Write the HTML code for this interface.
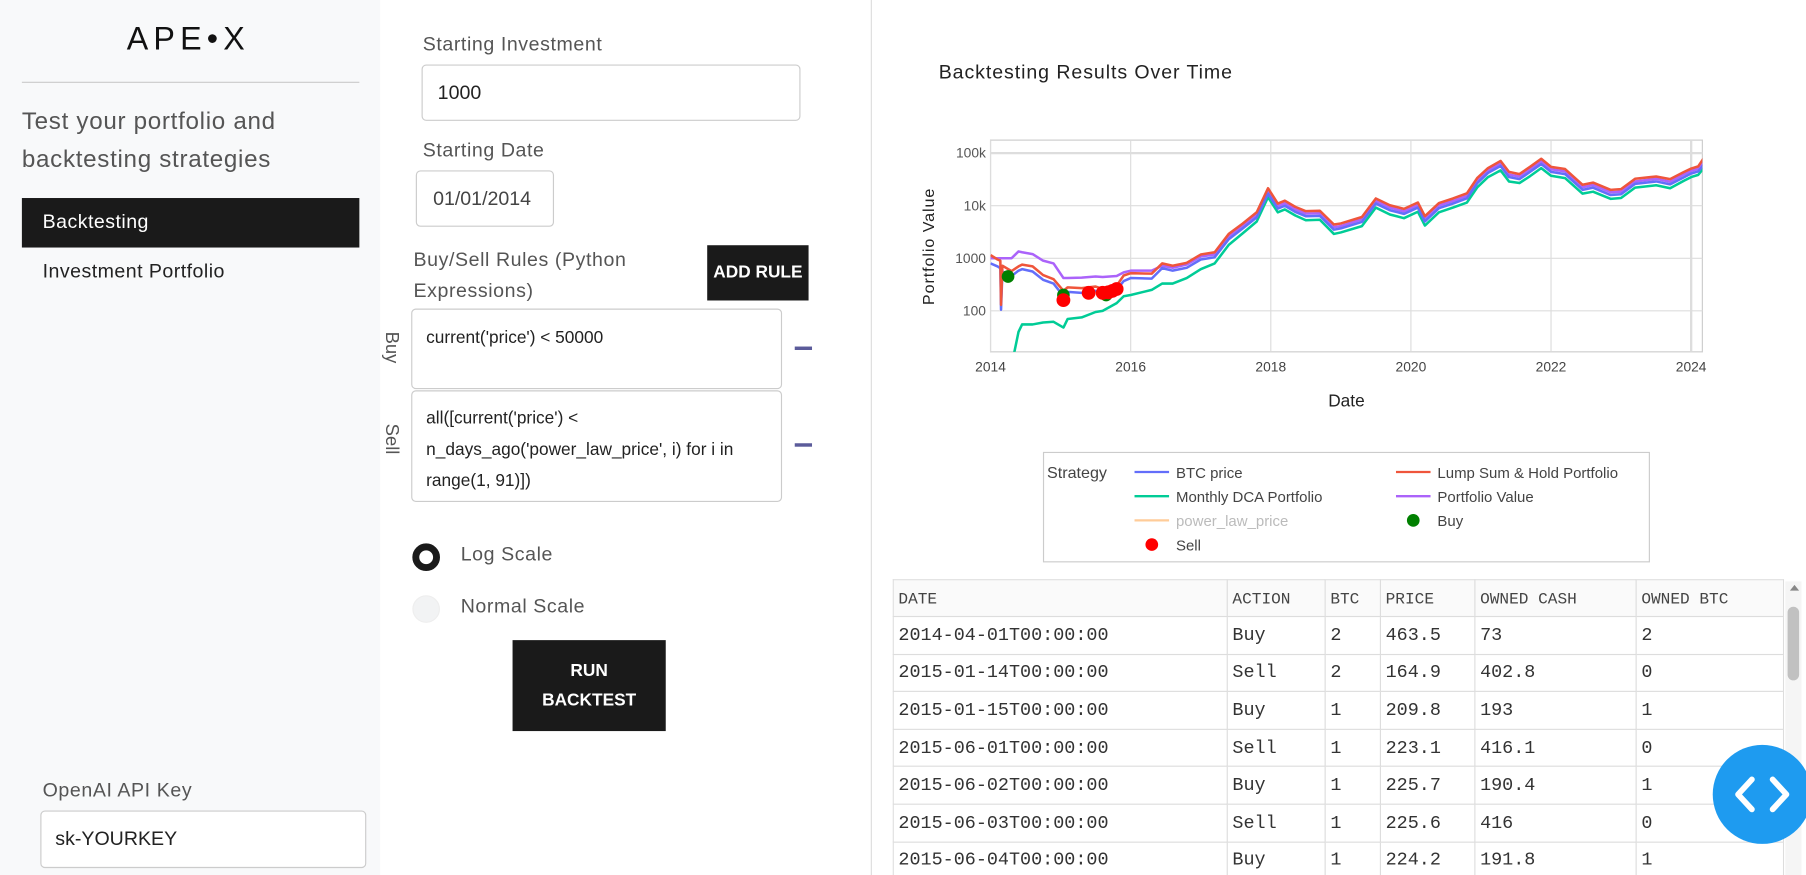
<!DOCTYPE html>
<html><head><meta charset="utf-8"><style>
*{box-sizing:border-box;margin:0;padding:0}
html,body{width:1806px;height:875px;overflow:hidden;background:#fff;font-family:"Liberation Sans",sans-serif}
#wrap{position:absolute;left:0;top:0;width:1568px;height:760px;transform:scale(1.1518,1.1513);transform-origin:0 0}
.abs{position:absolute}
.sidebar{left:0;top:0;width:330px;height:760px;background:#f8f9fa}
.lbl{color:#555;font-size:17px;letter-spacing:.5px}
.inp{border:1px solid #ccc;border-radius:4px;background:#fff;color:#222}
.btn{background:#1a1a1a;color:#fff;font-weight:bold;text-align:center}
table{border-collapse:collapse;font-family:"Liberation Mono",monospace;font-size:16px;color:#333}
td,th{border:1px solid #ddd;padding:0 4px;text-align:left;height:32.6px;font-weight:normal}
th{font-size:14px;height:32px;color:#444;background:#fafafa;padding-top:2px}
</style></head><body>
<div id="wrap">
<div class="abs sidebar"></div>
<div class="abs" style="left:110px;top:18px;font-size:28px;letter-spacing:4.5px;color:#111">APE•X</div>
<div class="abs" style="left:19px;top:71px;width:293px;border-top:1px solid #ccc"></div>
<div class="abs" style="left:19px;top:89px;font-size:21px;line-height:33px;color:#555;letter-spacing:.6px">Test your portfolio and<br>backtesting strategies</div>
<div class="abs" style="left:19px;top:172px;width:293px;height:43px;background:#1a1a1a;color:#fff;font-size:17px;padding:11px 18px;letter-spacing:.4px">Backtesting</div>
<div class="abs" style="left:37px;top:226px;font-size:17px;color:#222;letter-spacing:.4px">Investment Portfolio</div>
<div class="abs lbl" style="left:37px;top:677px">OpenAI API Key</div>
<div class="abs inp" style="left:35px;top:704px;width:283px;height:50px;padding:14px 12px;font-size:17px">sk-YOURKEY</div>

<div class="abs lbl" style="left:367px;top:29px">Starting Investment</div>
<div class="abs inp" style="left:366px;top:56px;width:329px;height:49px;padding:14px 13px;font-size:17px">1000</div>
<div class="abs lbl" style="left:367px;top:121px">Starting Date</div>
<div class="abs inp" style="left:361px;top:148px;width:120px;height:49px;padding:14px 14px;font-size:17px;color:#444">01/01/2014</div>
<div class="abs lbl" style="left:359px;top:212px;line-height:27px">Buy/Sell Rules (Python<br>Expressions)</div>
<div class="abs btn" style="left:614px;top:213px;width:88px;height:48px;line-height:48px;font-size:15px">ADD RULE</div>
<div class="abs" style="left:348px;top:288px;transform:rotate(90deg);transform-origin:left top;color:#555;font-size:16px">Buy</div>
<div class="abs inp" style="left:357px;top:268px;width:322px;height:70px;padding:16px 12px;font-size:15px">current('price') &lt; 50000</div>
<div class="abs" style="left:690px;top:301px;width:15px;height:3px;background:#5b5b9a"></div>
<div class="abs" style="left:348px;top:368px;transform:rotate(90deg);transform-origin:left top;color:#555;font-size:16px">Sell</div>
<div class="abs inp" style="left:357px;top:339px;width:322px;height:97px;padding:10px 12px;font-size:15px;line-height:27px">all([current('price') &lt;<br>n_days_ago('power_law_price', i) for i in<br>range(1, 91)])</div>
<div class="abs" style="left:690px;top:385px;width:15px;height:3px;background:#5b5b9a"></div>
<div class="abs" style="left:358px;top:472px;width:24px;height:24px;border-radius:50%;border:6px solid #1a1a1a;background:#fff"></div>
<div class="abs lbl" style="left:400px;top:472px">Log Scale</div>
<div class="abs" style="left:358px;top:517px;width:24px;height:24px;border-radius:50%;background:#f2f3f4;border:1px solid #eee"></div>
<div class="abs lbl" style="left:400px;top:517px">Normal Scale</div>
<div class="abs btn" style="left:445px;top:556px;width:133px;height:79px;font-size:15px;line-height:26px;padding-top:14px">RUN<br>BACKTEST</div>

<div class="abs" style="left:756px;top:0;width:1px;height:760px;background:#ddd"></div>

<svg class="abs" id="chart" style="left:0;top:0" width="1568" height="500" font-family="Liberation Sans, sans-serif"></svg>

<div class="abs" style="left:775px;top:503px;width:774px;height:257px;overflow:hidden">
<table style="width:774px">
<tr><th style="width:290px">DATE</th><th style="width:85px">ACTION</th><th style="width:48px">BTC</th><th style="width:82px">PRICE</th><th style="width:140px">OWNED CASH</th><th>OWNED BTC</th></tr>
<tbody id="tb"></tbody></table></div>
<div class="abs" style="left:1550px;top:505px;width:14px;height:255px;background:#f5f5f5">
<div style="position:absolute;left:4px;top:3px;border:4px solid transparent;border-bottom:5px solid #888;border-top:none"></div>
<div style="position:absolute;left:2px;top:22px;width:10px;height:64px;background:#c1c1c1;border-radius:5px"></div></div>
<div class="abs" style="left:1487px;top:647px;width:86px;height:86px;border-radius:50%;background:#1e9bf0"><svg width="86" height="86"><path d="M34 30 L22 43 L34 56 M52 30 L64 43 L52 56" stroke="#fff" stroke-width="5" fill="none" stroke-linecap="round" stroke-linejoin="round"/></svg></div>
</div>
<script>
const rows=[["2014-04-01T00:00:00","Buy","2","463.5","73","2"],["2015-01-14T00:00:00","Sell","2","164.9","402.8","0"],["2015-01-15T00:00:00","Buy","1","209.8","193","1"],["2015-06-01T00:00:00","Sell","1","223.1","416.1","0"],["2015-06-02T00:00:00","Buy","1","225.7","190.4","1"],["2015-06-03T00:00:00","Sell","1","225.6","416","0"],["2015-06-04T00:00:00","Buy","1","224.2","191.8","1"]];
const tb=document.getElementById('tb');
rows.forEach(r=>{const tr=document.createElement('tr');


r.forEach(c=>{const td=document.createElement('td');td.textContent=c;tr.appendChild(td);});tb.appendChild(tr);});
</script>
<script>
const dates=[2014.0,2014.1,2014.14,2014.15,2014.17,2014.3,2014.4,2014.45,2014.6,2014.75,2014.9,2015.04,2015.1,2015.3,2015.5,2015.6,2015.8,2015.9,2016.0,2016.3,2016.45,2016.6,2016.8,2017.0,2017.2,2017.4,2017.6,2017.8,2017.96,2018.1,2018.2,2018.35,2018.5,2018.7,2018.9,2019.0,2019.3,2019.5,2019.7,2019.9,2020.1,2020.2,2020.4,2020.6,2020.8,2020.95,2021.1,2021.28,2021.4,2021.55,2021.7,2021.86,2022.0,2022.2,2022.45,2022.6,2022.85,2023.0,2023.2,2023.5,2023.7,2023.9,2024.0,2024.1,2024.18];
const btcPrice=[800,700,650,105,560,460,580,620,560,390,330,190,230,220,240,220,250,370,420,410,650,580,660,950,1050,2300,3700,6000,17000,8800,10000,7600,6300,6400,3500,3700,4900,11000,8200,7000,9200,5000,9000,11000,13800,27000,42000,57000,35000,32000,44000,62000,44000,40000,20000,22000,16000,16500,26000,29000,25500,35000,41000,45000,60000];
const lumpSum=[1150,950,900,130,720,570,700,760,700,480,400,240,280,270,290,260,300,470,520,510,800,720,820,1180,1300,2900,4600,7500,21500,11000,12500,9500,7900,8000,4400,4600,6100,13700,10200,8700,11500,6300,11200,13700,17200,34000,52000,71000,44000,40000,55000,78000,55000,50000,25000,27500,20000,20600,32500,36000,32000,44000,51000,56000,80000];
const dcaValue=[null,null,null,null,null,9,40,55,55,60,62,48,70,75,95,100,140,190,200,250,330,330,420,620,800,1800,3000,5000,14500,7500,8500,6500,5300,5400,2900,3100,4100,9200,6800,5800,7700,4200,7500,9200,11500,22500,35000,47000,29000,27000,36500,52000,37000,33500,17000,18500,13500,14000,22000,24500,21500,30000,35000,38500,52000];
const portfolioValue=[1000,1000,1000,1000,1000,1000,1350,1300,1200,900,800,420,420,430,450,440,460,540,580,580,720,660,760,1080,1180,2600,4200,6800,19000,9800,11200,8500,7100,7200,3900,4100,5500,12300,9200,7800,10300,5600,10100,12300,15400,30500,47000,64000,39000,36000,49500,70000,49500,45000,22500,24700,18000,18500,29000,32500,28500,39500,46000,50500,68000];
const buyPoints=[[2014.25,450],[2015.04,200],[2015.65,200]];
const sellPoints=[[2015.04,160],[2015.4,220],[2015.6,220],[2015.68,225],[2015.74,240],[2015.8,260]];
const yTickVals=[100,1000,10000,100000];
const yTickLabels=["100","1000","10k","100k"];
const xTickVals=[2014,2016,2018,2020,2022,2024];
const xTickLabels=["2014","2016","2018","2020","2022","2024"];
const X0=860,X1=1478,Y0=121.7,Y1=305.6,xmin=2014,xmax=2024.16,lmin=Math.log10(16.6),lmax=Math.log10(177000);
const sx=v=>X0+(v-xmin)/(xmax-xmin)*(X1-X0);
const sy=v=>Y1-(Math.log10(v)-lmin)/(lmax-lmin)*(Y1-Y0);
const svg=document.getElementById('chart');const NS='http://www.w3.org/2000/svg';
function mk(t,a,p){const e=document.createElementNS(NS,t);for(const k in a)e.setAttribute(k,a[k]);(p||svg).appendChild(e);return e;}
let e;
e=mk('text',{x:815,y:68,'font-size':17,fill:'#222','letter-spacing':'0.8'});e.textContent='Backtesting Results Over Time';


e=mk('rect',{x:X0,y:Y0,width:X1-X0,height:Y1-Y0,fill:'#fff',stroke:'#ccc'});


yTickVals.forEach((v,i)=>{const y=sy(v);
e=mk('line',{x1:X0,x2:X1,y1:y,y2:y,stroke:'#ddd','stroke-width':i==3?2:1});


e=mk('text',{x:X0-4,y:y+4,'font-size':12,fill:'#555','text-anchor':'end'});e.textContent=yTickLabels[i];

});
xTickVals.forEach((v,i)=>{const x=sx(v);
e=mk('line',{x1:x,x2:x,y1:Y0,y2:Y1,stroke:'#ddd','stroke-width':i==5?2:1});


e=mk('text',{x:x,y:Y1+17,'font-size':12,fill:'#444','text-anchor':'middle'});e.textContent=xTickLabels[i];

});
e=mk('text',{x:1169,y:353,'font-size':15,fill:'#222','text-anchor':'middle'});e.textContent='Date';


e=mk('text',{x:0,y:0,'font-size':14,fill:'#222','text-anchor':'middle','letter-spacing':'0.8',transform:'translate(811,214) rotate(-90)'});e.textContent='Portfolio Value';


const clip=mk('clipPath',{id:'pc'});mk('rect',{x:X0,y:Y0,width:X1-X0,height:Y1-Y0},clip);
const g=mk('g',{'clip-path':'url(#pc)'});
function line(arr,col,name){let d='';arr.forEach((v,i)=>{if(v==null)return;d+=(d?'L':'M')+sx(dates[i]).toFixed(1)+','+sy(v).toFixed(1);});
const p=mk('path',{d:d,fill:'none',stroke:col,'stroke-width':2.2,'stroke-linejoin':'round'},g);

}
line(dcaValue,'#00cc96','dca-portfolio-line');
line(portfolioValue,'#ab63fa','portfolio-value-line');
line(btcPrice,'#636efa','btc-price-line');
line(lumpSum,'#ef553b','lump-sum-line');
buyPoints.forEach(p=>{e=mk('circle',{cx:sx(p[0]),cy:sy(p[1]),r:5.5,fill:'#008000'},g);

});
sellPoints.forEach(p=>{e=mk('circle',{cx:sx(p[0]),cy:sy(p[1]),r:6,fill:'#ff0000'},g);

});
e=mk('rect',{x:906,y:393,width:526,height:95,fill:'#fff',stroke:'#ccc'});


e=mk('text',{x:909,y:415,'font-size':14,fill:'#444'});e.textContent='Strategy';


const legendItems=[[985,410,'#636efa','BTC price','l'],[1212,410,'#ef553b','Lump Sum & Hold Portfolio','l'],[985,431,'#00cc96','Monthly DCA Portfolio','l'],[1212,431,'#ab63fa','Portfolio Value','l'],[985,452,'#ffcc99','power_law_price','l'],[1212,452,'#008000','Buy','m'],[985,473,'#ff0000','Sell','m']];
legendItems.forEach(it=>{const lg=mk('g',{});


if(it[4]=='l')mk('line',{x1:it[0],x2:it[0]+30,y1:it[1],y2:it[1],stroke:it[2],'stroke-width':2},lg);
else mk('circle',{cx:it[0]+15,cy:it[1],r:5.5,fill:it[2]},lg);
const t=mk('text',{x:it[0]+36,y:it[1]+5,'font-size':13,fill:it[3]=='power_law_price'?'#bbb':'#444'},lg);t.textContent=it[3];});
</script>
</body></html>
